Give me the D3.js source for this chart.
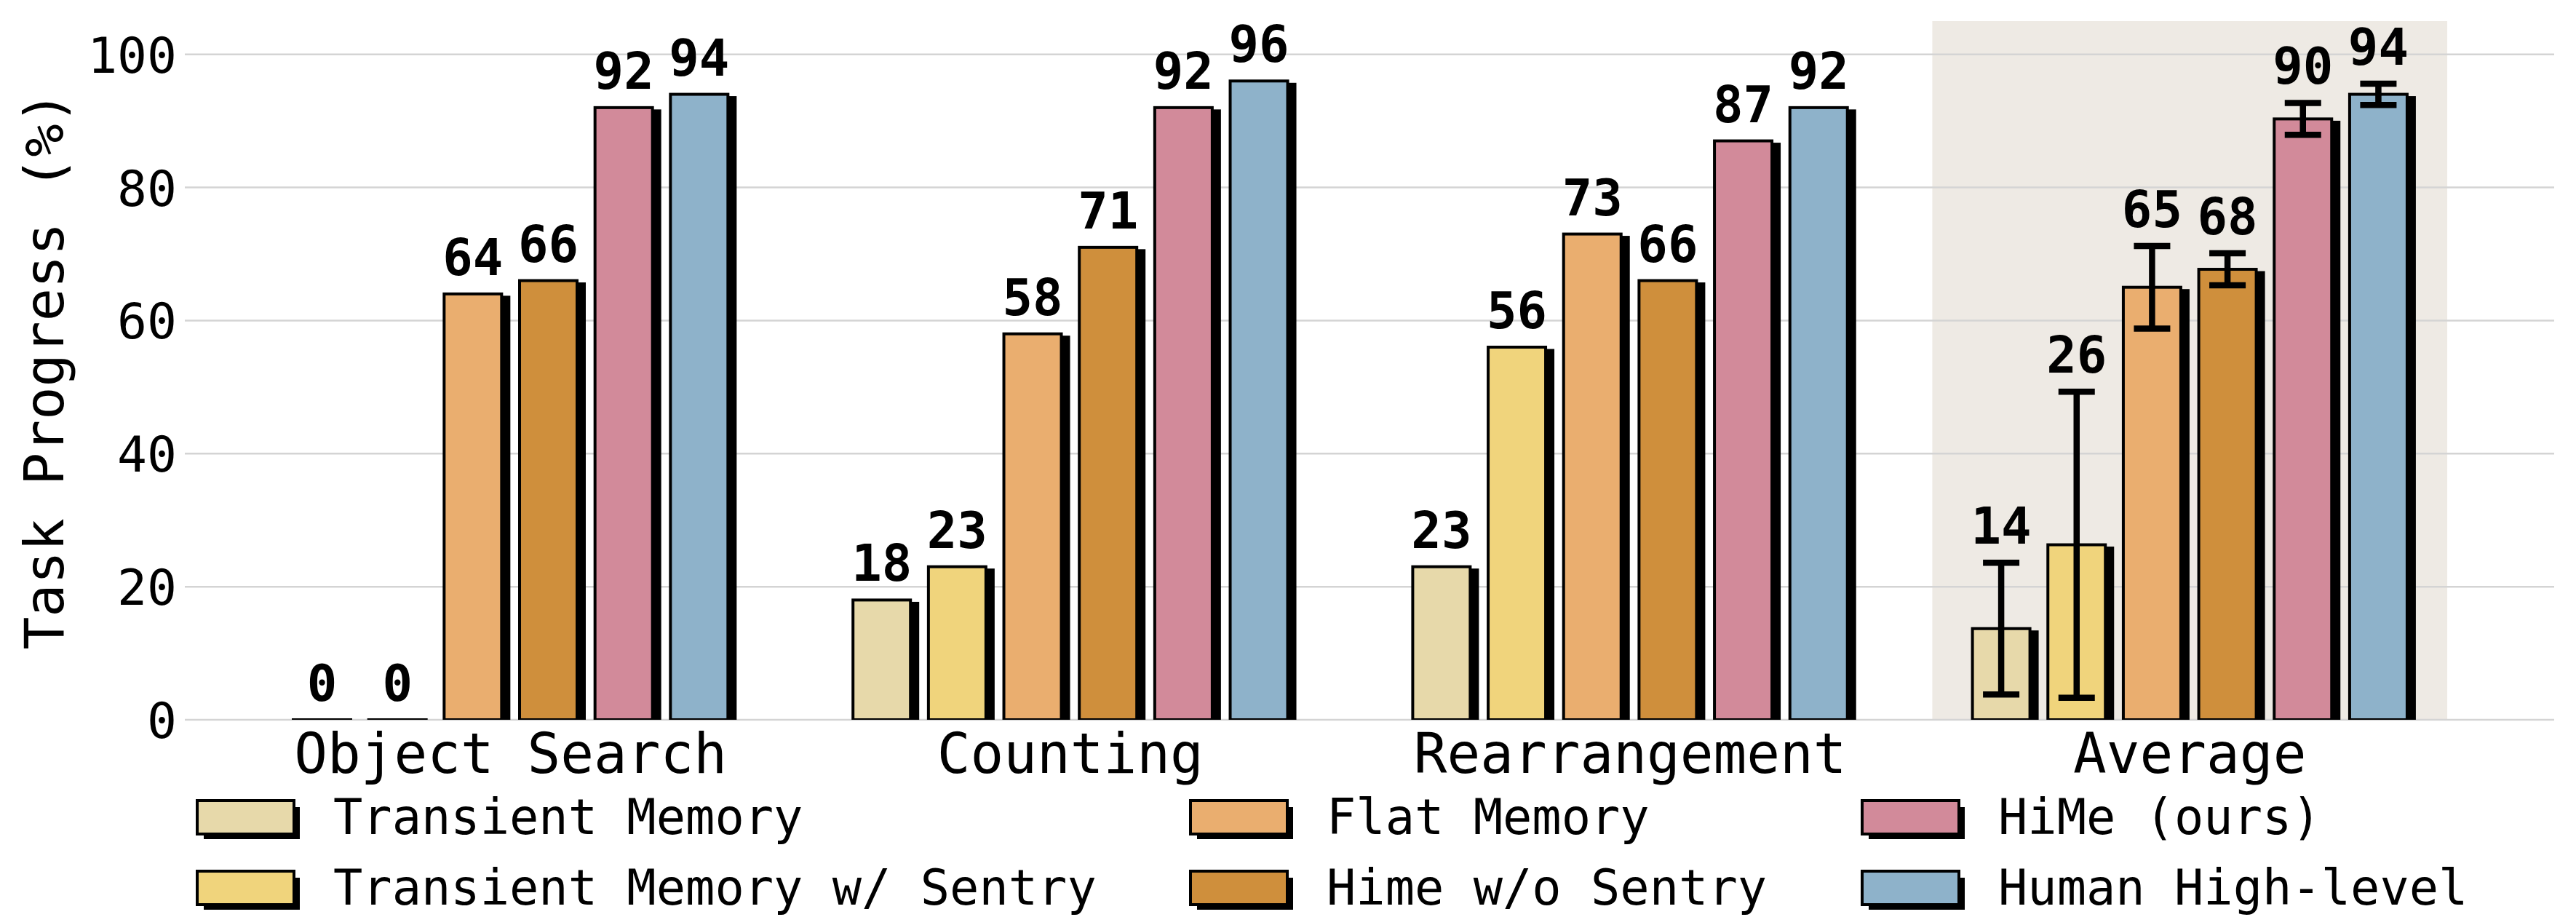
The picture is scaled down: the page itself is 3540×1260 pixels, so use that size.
<!DOCTYPE html>
<meta charset="utf-8">
<head>
    <style>
        body { margin: 0; background: #fff; }
        text { font-family: "DejaVu Sans Mono", monospace; fill: #000; }
        .grid line { stroke: #d4d4d4; stroke-width: 2.5; }
        .value { font-weight: bold; font-size: 69px; }
    </style>
    <script src="https://d3js.org/d3.v7.min.js"></script>
</head>
<body>
<script>

    // groups on the x axis
    var categories = ["Object Search", "Counting", "Rearrangement", "Average"];

    // one bar per method inside each group
    var seriesNames = ["Transient Memory", "Transient Memory w/ Sentry", "Flat Memory",
        "Hime w/o Sentry", "HiMe (ours)", "Human High-level"];
    var seriesColors = ["#E7D9AA", "#F0D47C", "#EAAE6F", "#CF8F3C", "#D28A9A", "#8EB2CA"];

    // task progress (%) per group
    var objectSearch = [0, 0, 64, 66, 92, 94];
    var counting = [18, 23, 58, 71, 92, 96];
    var rearrangement = [23, 56, 73, 66, 87, 92];
    var average = [13.7, 26.3, 65.0, 67.7, 90.3, 94.0];
    var averageErr = [9.9, 23.0, 6.2, 2.4, 2.4, 1.6];

    var yTicks = [0, 20, 40, 60, 80, 100];

    var groups = [objectSearch, counting, rearrangement, average];
    var errors = [null, null, null, averageErr];

    var width = 3540, height = 1260;
    var plot = {left: 254, right: 3510, top: 29, bottom: 989};

    var svg = d3.select("body").append("svg")
        .attr("width", width)
        .attr("height", height);

    var x = d3.scaleLinear()
        .domain([-0.582, 3.651])
        .range([plot.left, plot.right]);

    var y = d3.scaleLinear()
        .domain([0, 105])
        .range([plot.bottom, plot.top]);

    // offsets of the six bars around the group centre, in px
    var inner = d3.scaleBand()
        .domain(d3.range(seriesNames.length))
        .range([-311, 311])
        .paddingInner(0.238)
        .paddingOuter(0.119);

    svg.append("defs").append("clipPath")
        .attr("id", "plotclip")
        .append("rect")
        .attr("x", plot.left)
        .attr("y", plot.top)
        .attr("width", plot.right - plot.left)
        .attr("height", plot.bottom - plot.top);

    // shaded band behind the Average group
    svg.append("rect")
        .attr("x", x(3 - 0.46))
        .attr("y", plot.top)
        .attr("width", x(3 + 0.46) - x(3 - 0.46))
        .attr("height", plot.bottom - plot.top)
        .attr("fill", "#EEEAE4");

    // horizontal grid
    svg.append("g")
        .attr("class", "grid")
        .selectAll("line")
        .data(yTicks)
        .enter()
        .append("line")
        .attr("x1", plot.left)
        .attr("x2", plot.right)
        .attr("y1", function (d) { return y(d); })
        .attr("y2", function (d) { return y(d); });

    // y tick labels
    svg.append("g")
        .selectAll("text")
        .data(yTicks)
        .enter()
        .append("text")
        .attr("x", plot.left - 11)
        .attr("y", function (d) { return y(d) + 25; })
        .attr("text-anchor", "end")
        .style("font-size", "68px")
        .text(function (d) { return d; });

    svg.append("text")
        .attr("transform", "translate(87," + ((plot.top + plot.bottom) / 2) + ")rotate(-90)")
        .attr("text-anchor", "middle")
        .style("font-size", "75px")
        .text("Task Progress (%)");

    // flatten to one record per bar
    var bars = [];
    groups.forEach(function (vals, g) {
        vals.forEach(function (v, i) {
            bars.push({g: g, i: i, value: v, err: errors[g] ? errors[g][i] : 0});
        });
    });

    function barX(d) { return x(d.g) + inner(d.i); }
    // zero-height rects are not drawn at all, keep a hair of height so the outline shows
    function barH(d) { return Math.max(y(0) - y(d.value), 0.01); }

    var barLayer = svg.append("g").attr("clip-path", "url(#plotclip)");

    // drop shadows first, then the bars on top
    barLayer.selectAll("rect.shadow")
        .data(bars.filter(function (d) { return d.value > 0; }))
        .enter()
        .append("rect")
        .attr("class", "shadow")
        .attr("x", function (d) { return barX(d) + 12; })
        .attr("y", function (d) { return y(d.value) + 2.5; })
        .attr("width", inner.bandwidth())
        .attr("height", barH)
        .attr("fill", "#000");

    barLayer.selectAll("rect.bar")
        .data(bars)
        .enter()
        .append("rect")
        .attr("class", "bar")
        .attr("x", barX)
        .attr("y", function (d) { return y(d.value) - (d.value > 0 ? 0 : 0.01); })
        .attr("width", inner.bandwidth())
        .attr("height", barH)
        .attr("fill", function (d) { return seriesColors[d.i]; })
        .attr("stroke", "#000")
        .attr("stroke-width", 4);

    // error bars on the Average group
    var errBars = bars.filter(function (d) { return d.err > 0; });
    var eb = barLayer.selectAll("g.err")
        .data(errBars)
        .enter()
        .append("g")
        .attr("class", "err")
        .attr("stroke", "#000")
        .attr("stroke-width", 8.5);
    eb.append("line")
        .attr("x1", function (d) { return barX(d) + inner.bandwidth() / 2; })
        .attr("x2", function (d) { return barX(d) + inner.bandwidth() / 2; })
        .attr("y1", function (d) { return y(d.value - d.err); })
        .attr("y2", function (d) { return y(d.value + d.err); });
    [-1, 1].forEach(function (s) {
        eb.append("line")
            .attr("x1", function (d) { return barX(d) + inner.bandwidth() / 2 - 25; })
            .attr("x2", function (d) { return barX(d) + inner.bandwidth() / 2 + 25; })
            .attr("y1", function (d) { return y(d.value + s * d.err); })
            .attr("y2", function (d) { return y(d.value + s * d.err); });
    });

    // value labels
    var fmt = d3.format(".0f");
    svg.append("g")
        .selectAll("text")
        .data(bars)
        .enter()
        .append("text")
        .attr("class", "value")
        .attr("x", function (d) { return barX(d) + inner.bandwidth() / 2; })
        .attr("y", function (d) { return y(d.value + d.err) - 26; })
        .attr("text-anchor", "middle")
        .text(function (d) { return fmt(d.value); });

    // group labels
    svg.append("g")
        .selectAll("text")
        .data(categories)
        .enter()
        .append("text")
        .attr("x", function (d, i) { return x(i); })
        .attr("y", 1062)
        .attr("text-anchor", "middle")
        .style("font-size", "76px")
        .text(function (d) { return d; });

    // legend, 3 columns filled top to bottom
    var colX = [271, 1636, 2559], rowY = [1100, 1197];
    var lg = svg.append("g")
        .selectAll("g")
        .data(seriesNames)
        .enter()
        .append("g")
        .attr("transform", function (d, i) {
            return "translate(" + colX[Math.floor(i / 2)] + "," + rowY[i % 2] + ")";
        });
    lg.append("rect")
        .attr("x", 9).attr("y", 9)
        .attr("width", 132).attr("height", 44)
        .attr("fill", "#000");
    lg.append("rect")
        .attr("width", 133).attr("height", 46)
        .attr("fill", function (d, i) { return seriesColors[i]; })
        .attr("stroke", "#000")
        .attr("stroke-width", 4);
    lg.append("text")
        .attr("x", 187)
        .attr("y", 46)
        .style("font-size", "67px")
        .text(function (d) { return d; });

</script>
</body>
